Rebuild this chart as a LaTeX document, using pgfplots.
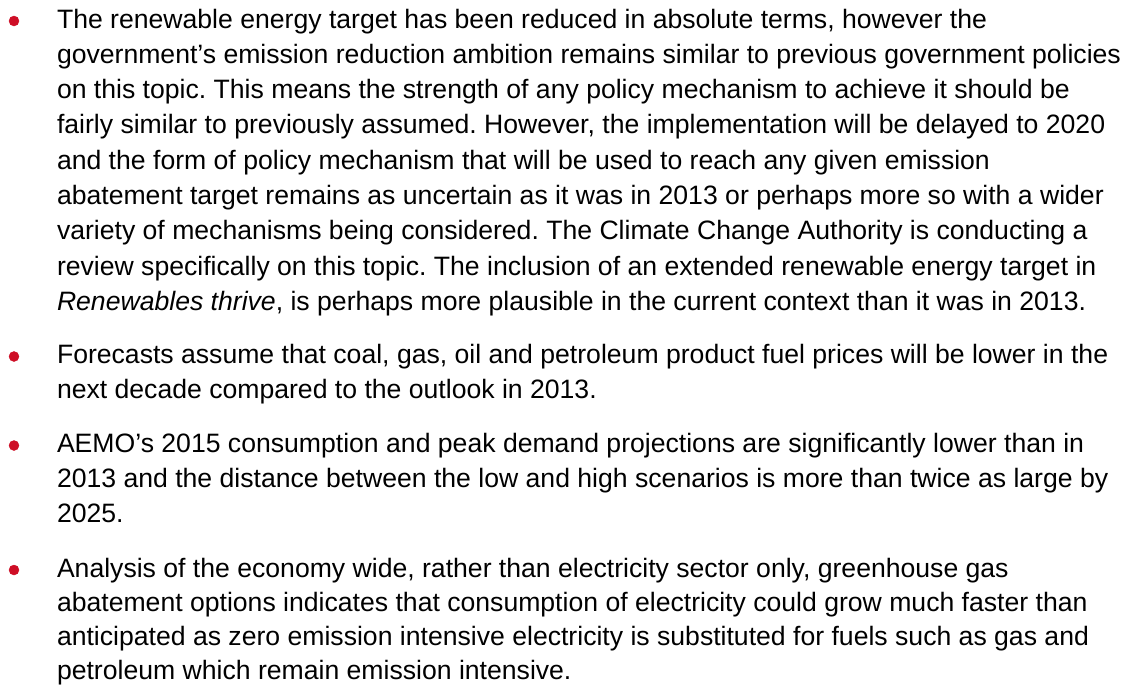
\documentclass[border=0pt]{standalone}
\usepackage{pgfplots}
\pgfplotsset{compat=1.18}
\usepackage{fontspec}
\setmainfont{Liberation Sans}
\frenchspacing
\definecolor{bulletred}{RGB}{206,14,38}
\definecolor{bodytext}{RGB}{0,0,0}
\tikzset{ln/.style={anchor=base west, inner sep=0pt, outer sep=0pt, text=bodytext,
    font=\fontsize{26.6}{30}\selectfont}}
\begin{document}
\begin{tikzpicture}
\begin{axis}[
  width=1131pt, height=686pt, scale only axis,
  xmin=0, xmax=1131, ymin=0, ymax=686, y dir=reverse,
  hide axis, clip=false,
]
\path (rel axis cs:0,0) rectangle (rel axis cs:1,1);
% bullets
\addplot[only marks, mark=*, mark size=5pt, color=bulletred]
  coordinates {(14,21) (14,356.5) (14,445.5) (14,570)};
% paragraph 1
\node[ln] at (axis cs:57,28)    {The renewable energy target has been reduced in absolute terms, however the};
\node[ln] at (axis cs:57,63.3)  {government’s emission reduction ambition remains similar to previous government policies};
\node[ln] at (axis cs:57,98.6)  {on this topic. This means the strength of any policy mechanism to achieve it should be};
\node[ln] at (axis cs:57,133.9) {fairly similar to previously assumed. However, the implementation will be delayed to 2020};
\node[ln] at (axis cs:57,169.2) {and the form of policy mechanism that will be used to reach any given emission};
\node[ln] at (axis cs:57,204.5) {abatement target remains as uncertain as it was in 2013 or perhaps more so with a wider};
\node[ln] at (axis cs:57,239.8) {variety of mechanisms being considered. The Climate Change Authority is conducting a};
\node[ln] at (axis cs:57,275.1) {review specifically on this topic. The inclusion of an extended renewable energy target in};
\node[ln] at (axis cs:57,310.4) {\textit{Renewables thrive}, is perhaps more plausible in the current context than it was in 2013.};
% paragraph 2
\node[ln] at (axis cs:57,363.5) {Forecasts assume that coal, gas, oil and petroleum product fuel prices will be lower in the};
\node[ln] at (axis cs:57,398.8) {next decade compared to the outlook in 2013.};
% paragraph 3
\node[ln] at (axis cs:57,452.5) {AEMO’s 2015 consumption and peak demand projections are significantly lower than in};
\node[ln] at (axis cs:57,487.8) {2013 and the distance between the low and high scenarios is more than twice as large by};
\node[ln] at (axis cs:57,522.5) {2025.};
% paragraph 4
\node[ln] at (axis cs:57,577)   {Analysis of the economy wide, rather than electricity sector only, greenhouse gas};
\node[ln] at (axis cs:57,611.5) {abatement options indicates that consumption of electricity could grow much faster than};
\node[ln] at (axis cs:57,645.5) {anticipated as zero emission intensive electricity is substituted for fuels such as gas and};
\node[ln] at (axis cs:57,679)   {petroleum which remain emission intensive.};
\end{axis}
\end{tikzpicture}
\end{document}
